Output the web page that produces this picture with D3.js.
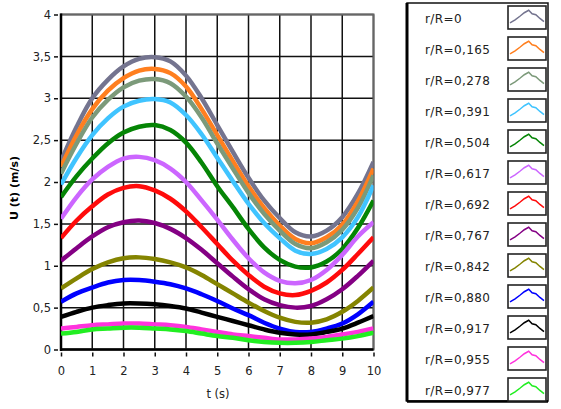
<!DOCTYPE html>
<html>
<head>
<meta charset="utf-8">
<script src="https://cdn.jsdelivr.net/npm/d3@7/dist/d3.min.js"></script>
<style>
  html, body { margin: 0; padding: 0; background: #fff; }
  svg { display: block; font-family: "DejaVu Sans", Verdana, sans-serif; }
</style>
</head>
<body>
<svg id="chart" width="561" height="409"></svg>
<script>
// Time axis (s)
const times = [0, 0.5, 1, 1.5, 2, 2.5, 3, 3.5, 4, 4.5, 5, 5.5, 6, 6.5, 7, 7.5, 8, 8.5, 9, 9.5, 10];

// Velocity U(t) in m/s at each radial position r/R
const u_0     = [2.25, 2.66, 3.00, 3.22, 3.38, 3.47, 3.49, 3.44, 3.27, 3.00, 2.68, 2.36, 2.05, 1.78, 1.57, 1.40, 1.35, 1.42, 1.58, 1.86, 2.24];
const u_0165  = [2.18, 2.56, 2.87, 3.09, 3.24, 3.33, 3.35, 3.30, 3.14, 2.87, 2.56, 2.25, 1.95, 1.69, 1.48, 1.32, 1.27, 1.34, 1.49, 1.77, 2.16];
const u_0278  = [2.10, 2.46, 2.77, 2.98, 3.13, 3.21, 3.23, 3.18, 3.02, 2.77, 2.46, 2.16, 1.87, 1.62, 1.42, 1.26, 1.21, 1.28, 1.43, 1.69, 2.08];
const u_0391  = [1.97, 2.29, 2.56, 2.76, 2.90, 2.97, 2.99, 2.95, 2.80, 2.57, 2.29, 2.01, 1.74, 1.51, 1.33, 1.18, 1.14, 1.20, 1.34, 1.58, 1.96];
const u_0504  = [1.82, 2.07, 2.28, 2.46, 2.59, 2.66, 2.68, 2.62, 2.47, 2.23, 1.95, 1.70, 1.44, 1.22, 1.07, 0.99, 0.98, 1.05, 1.20, 1.45, 1.78];
const u_0617  = [1.56, 1.82, 2.03, 2.18, 2.28, 2.30, 2.26, 2.16, 2.00, 1.78, 1.55, 1.31, 1.09, 0.92, 0.82, 0.79, 0.83, 0.95, 1.13, 1.35, 1.52];
const u_0692  = [1.33, 1.54, 1.71, 1.85, 1.93, 1.95, 1.90, 1.80, 1.65, 1.46, 1.26, 1.06, 0.89, 0.75, 0.67, 0.65, 0.70, 0.80, 0.95, 1.14, 1.34];
const u_0767  = [1.06, 1.21, 1.35, 1.46, 1.52, 1.54, 1.51, 1.44, 1.33, 1.19, 1.03, 0.87, 0.72, 0.60, 0.53, 0.50, 0.52, 0.60, 0.72, 0.88, 1.06];
const u_0842  = [0.73, 0.85, 0.96, 1.04, 1.09, 1.10, 1.08, 1.04, 0.98, 0.89, 0.78, 0.67, 0.56, 0.46, 0.38, 0.33, 0.32, 0.36, 0.45, 0.58, 0.74];
const u_0880  = [0.57, 0.67, 0.74, 0.80, 0.83, 0.83, 0.81, 0.78, 0.73, 0.66, 0.58, 0.49, 0.41, 0.32, 0.25, 0.21, 0.21, 0.25, 0.31, 0.42, 0.57];
const u_0917  = [0.39, 0.45, 0.50, 0.53, 0.55, 0.55, 0.54, 0.52, 0.49, 0.44, 0.39, 0.34, 0.29, 0.24, 0.20, 0.18, 0.18, 0.21, 0.25, 0.32, 0.40];
const u_0955  = [0.25, 0.27, 0.29, 0.30, 0.31, 0.31, 0.30, 0.29, 0.27, 0.24, 0.21, 0.18, 0.16, 0.14, 0.12, 0.12, 0.13, 0.15, 0.18, 0.21, 0.25];
const u_0977  = [0.19, 0.21, 0.24, 0.25, 0.26, 0.26, 0.25, 0.24, 0.22, 0.19, 0.16, 0.14, 0.11, 0.09, 0.08, 0.08, 0.09, 0.11, 0.13, 0.16, 0.20];

// Legend labels and series colours
const seriesLabels = ["r/R=0", "r/R=0,165", "r/R=0,278", "r/R=0,391", "r/R=0,504", "r/R=0,617", "r/R=0,692",
                      "r/R=0,767", "r/R=0,842", "r/R=0,880", "r/R=0,917", "r/R=0,955", "r/R=0,977"];
const seriesColors = ["#74748f", "#ff7f1f", "#7c9a7a", "#40c4ff", "#058505", "#cc66ff", "#ff0b0b",
                      "#840084", "#848400", "#0000ff", "#000000", "#ff33dd", "#22ee22"];
const seriesValues = [u_0, u_0165, u_0278, u_0391, u_0504, u_0617, u_0692, u_0767, u_0842, u_0880, u_0917, u_0955, u_0977];

// Axis ticks
const xTicks = [0, 1, 2, 3, 4, 5, 6, 7, 8, 9, 10];
const yTicks = [0, 0.5, 1, 1.5, 2, 2.5, 3, 3.5, 4];
const fmtY = d => String(d).replace(".", ",");

const svg = d3.select("#chart");

const x = d3.scaleLinear().domain([0, 10]).range([61, 373.5]);
const y = d3.scaleLinear().domain([0, 4]).range([349.5, 14.5]);

// Grid
const grid = svg.append("g");
grid.selectAll("line.v").data(xTicks).join("line")
  .attr("x1", d => x(d)).attr("x2", d => x(d))
  .attr("y1", y(4)).attr("y2", y(0))
  .attr("stroke", "#111").attr("stroke-width", 1.5);
grid.selectAll("line.h").data(yTicks).join("line")
  .attr("x1", x(0)).attr("x2", x(10))
  .attr("y1", d => y(d)).attr("y2", d => y(d))
  .attr("stroke", "#111").attr("stroke-width", 1.5);

// Plot frame
svg.append("rect")
  .attr("x", x(0)).attr("y", y(4))
  .attr("width", x(10) - x(0)).attr("height", y(0) - y(4))
  .attr("fill", "none").attr("stroke", "#666").attr("stroke-width", 2);
svg.append("line")
  .attr("x1", x(0)).attr("x2", x(0)).attr("y1", y(4) - 1).attr("y2", y(0) + 1.5)
  .attr("stroke", "#000").attr("stroke-width", 2.5);
svg.append("line")
  .attr("x1", x(0)).attr("x2", x(10)).attr("y1", y(0)).attr("y2", y(0))
  .attr("stroke", "#000").attr("stroke-width", 2.5);

// Axes (ticks and labels only; the frame is drawn above)
const xAxis = svg.append("g").attr("transform", `translate(0,${y(0) + 3})`)
  .call(d3.axisBottom(x).tickValues(xTicks).tickSize(4).tickPadding(10).tickFormat(d3.format("d")));
const yAxis = svg.append("g").attr("transform", `translate(${x(0) - 3},0)`)
  .call(d3.axisLeft(y).tickValues(yTicks).tickSize(4).tickPadding(3).tickFormat(fmtY));
[xAxis, yAxis].forEach(a => {
  a.select(".domain").remove();
  a.selectAll(".tick line").attr("stroke", "#111").attr("stroke-width", 1.5);
  a.selectAll(".tick text").attr("fill", "#222")
    .style("font-family", "'DejaVu Sans', Verdana, sans-serif").style("font-size", "11.5px");
});

// Axis titles
svg.append("text")
  .attr("x", 218).attr("y", 398).attr("text-anchor", "middle")
  .attr("fill", "#222").style("font-size", "11.5px")
  .text("t (s)");
svg.append("text")
  .attr("transform", "translate(18,188) rotate(-90)")
  .attr("text-anchor", "middle").attr("fill", "#000")
  .style("font-size", "11px").style("font-weight", "bold")
  .text("U (t) (m/s)");

// Velocity curves
const line = d3.line()
  .x((d, i) => x(times[i]))
  .y(d => y(d))
  .curve(d3.curveCatmullRom.alpha(0.5));

svg.append("clipPath").attr("id", "plotclip").append("rect")
  .attr("x", x(0)).attr("y", y(4)).attr("width", x(10) - x(0)).attr("height", y(0) - y(4) + 1);

svg.append("g").attr("clip-path", "url(#plotclip)")
  .selectAll("path").data(seriesValues).join("path")
  .attr("d", d => line(d))
  .attr("fill", "none")
  .attr("stroke", (d, i) => seriesColors[i])
  .attr("stroke-width", 4.5)
  .attr("stroke-linejoin", "round");

// Legend
const legend = svg.append("g");
legend.append("rect")
  .attr("x", 407).attr("y", 3).attr("width", 141).attr("height", 398)
  .attr("fill", "#fff").attr("stroke", "#111").attr("stroke-width", 1.5);
legend.append("line")
  .attr("x1", 407).attr("x2", 407).attr("y1", 3).attr("y2", 401.5)
  .attr("stroke", "#000").attr("stroke-width", 3);
legend.append("line")
  .attr("x1", 407).attr("x2", 548).attr("y1", 401.5).attr("y2", 401.5)
  .attr("stroke", "#000").attr("stroke-width", 2.5);

const rowY = i => 18 + i * 31;
const icon = [[0, 0.78], [0.15, 0.62], [0.3, 0.42], [0.42, 0.25], [0.55, 0.12], [0.65, 0.3], [0.76, 0.35], [0.88, 0.55], [1, 0.72]];
const ix = d3.scaleLinear().domain([0, 1]).range([2, 36]);
const iy = d3.scaleLinear().domain([0, 1]).range([2, 21]);
const iconLine = d3.line().x(d => ix(d[0])).y(d => iy(d[1]));

const rows = legend.selectAll("g.row").data(seriesLabels).join("g")
  .attr("transform", (d, i) => `translate(0,${rowY(i)})`);
rows.append("text")
  .attr("x", 425).attr("y", 4.5)
  .attr("fill", "#222").style("font-size", "12px").style("letter-spacing", "0.4px")
  .text(d => d);
const sw = rows.append("g").attr("transform", "translate(508,-12)");
sw.append("rect")
  .attr("width", 38).attr("height", 23)
  .attr("fill", "#fff").attr("stroke", "#222").attr("stroke-width", 1.6);
sw.append("path")
  .attr("d", iconLine(icon))
  .attr("fill", "none")
  .attr("stroke", (d, i) => seriesColors[i])
  .attr("stroke-width", 1.5);
</script>
</body>
</html>
